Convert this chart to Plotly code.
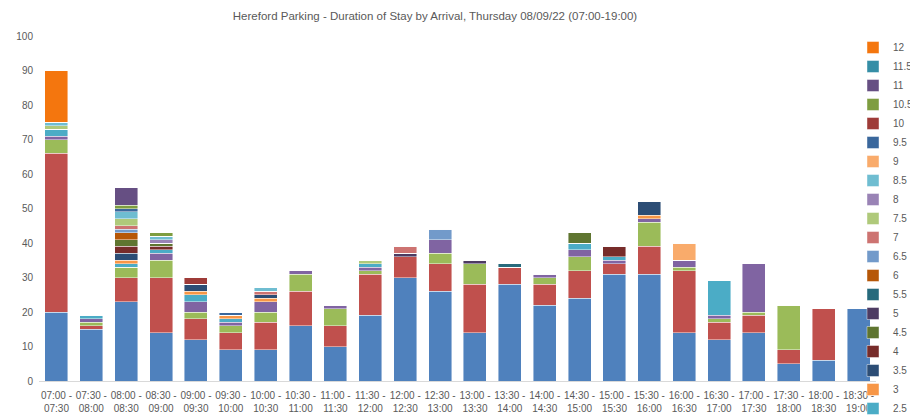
import plotly.graph_objects as go

slots = ['07:00 -<br>07:30', '07:30 -<br>08:00', '08:00 -<br>08:30', '08:30 -<br>09:00',
         '09:00 -<br>09:30', '09:30 -<br>10:00', '10:00 -<br>10:30', '10:30 -<br>11:00',
         '11:00 -<br>11:30', '11:30 -<br>12:00', '12:00 -<br>12:30', '12:30 -<br>13:00',
         '13:00 -<br>13:30', '13:30 -<br>14:00', '14:00 -<br>14:30', '14:30 -<br>15:00',
         '15:00 -<br>15:30', '15:30 -<br>16:00', '16:00 -<br>16:30', '16:30 -<br>17:00',
         '17:00 -<br>17:30', '17:30 -<br>18:00', '18:00 -<br>18:30', '18:30 -<br>19:00']

# vehicles per arrival slot, one list per length of stay (hours)
h0_5 = [20, 15, 23, 14, 12, 9, 9, 16, 10, 19, 30, 26, 14, 28, 22, 24, 31, 31, 14, 12, 14, 5, 6, 21]
h1 = [46, 1, 7, 16, 6, 5, 8, 10, 6, 12, 6, 8, 14, 5, 6, 8, 3, 8, 18, 5, 5, 4, 15, 0]
h1_5 = [4, 1, 3, 5, 2, 2, 3, 5, 5, 1, 0, 3, 6, 0, 2, 4, 0, 7, 1, 1, 1, 13, 0, 0]
h2 = [1, 1, 0, 2, 3, 1, 3, 1, 1, 1, 0, 4, 0, 0, 1, 2, 1, 1, 2, 1, 14, 0, 0, 0]
h2_5 = [2, 1, 1, 1, 2, 1, 0, 0, 0, 1, 0, 0, 0, 0, 0, 2, 1, 0, 0, 10, 0, 0, 0, 0]
h3 = [0, 0, 1, 0, 1, 1, 1, 0, 0, 0, 0, 0, 0, 0, 0, 0, 0, 1, 0, 0, 0, 0, 0, 0]
h3_5 = [0, 0, 2, 0, 2, 0, 1, 0, 0, 0, 0, 0, 0, 0, 0, 0, 0, 4, 0, 0, 0, 0, 0, 0]
h4 = [0, 0, 2, 1, 0, 0, 0, 0, 0, 0, 0, 0, 0, 0, 0, 0, 3, 0, 0, 0, 0, 0, 0, 0]
h4_5 = [0, 0, 2, 1, 0, 0, 0, 0, 0, 0, 0, 0, 0, 0, 0, 3, 0, 0, 0, 0, 0, 0, 0, 0]
h5 = [0, 0, 0, 0, 0, 0, 0, 0, 0, 0, 1, 0, 1, 0, 0, 0, 0, 0, 0, 0, 0, 0, 0, 0]
h5_5 = [0, 0, 0, 0, 0, 0, 0, 0, 0, 0, 0, 0, 0, 1, 0, 0, 0, 0, 0, 0, 0, 0, 0, 0]
h6 = [0, 0, 2, 0, 0, 0, 0, 0, 0, 0, 0, 0, 0, 0, 0, 0, 0, 0, 0, 0, 0, 0, 0, 0]
h6_5 = [0, 0, 1, 0, 0, 0, 0, 0, 0, 0, 0, 3, 0, 0, 0, 0, 0, 0, 0, 0, 0, 0, 0, 0]
h7 = [0, 0, 1, 0, 0, 0, 1, 0, 0, 0, 2, 0, 0, 0, 0, 0, 0, 0, 0, 0, 0, 0, 0, 0]
h7_5 = [1, 0, 2, 0, 0, 0, 0, 0, 0, 1, 0, 0, 0, 0, 0, 0, 0, 0, 0, 0, 0, 0, 0, 0]
h8 = [0, 0, 0, 1, 0, 0, 0, 0, 0, 0, 0, 0, 0, 0, 0, 0, 0, 0, 0, 0, 0, 0, 0, 0]
h8_5 = [1, 0, 2, 1, 0, 0, 1, 0, 0, 0, 0, 0, 0, 0, 0, 0, 0, 0, 0, 0, 0, 0, 0, 0]
h9 = [0, 0, 0, 0, 0, 0, 0, 0, 0, 0, 0, 0, 0, 0, 0, 0, 0, 0, 5, 0, 0, 0, 0, 0]
h9_5 = [0, 0, 1, 0, 0, 1, 0, 0, 0, 0, 0, 0, 0, 0, 0, 0, 0, 0, 0, 0, 0, 0, 0, 0]
h10 = [0, 0, 0, 0, 2, 0, 0, 0, 0, 0, 0, 0, 0, 0, 0, 0, 0, 0, 0, 0, 0, 0, 0, 0]
h10_5 = [0, 0, 1, 1, 0, 0, 0, 0, 0, 0, 0, 0, 0, 0, 0, 0, 0, 0, 0, 0, 0, 0, 0, 0]
h11 = [0, 0, 5, 0, 0, 0, 0, 0, 0, 0, 0, 0, 0, 0, 0, 0, 0, 0, 0, 0, 0, 0, 0, 0]
h11_5 = [0] * 24
h12 = [15, 0, 0, 0, 0, 0, 0, 0, 0, 0, 0, 0, 0, 0, 0, 0, 0, 0, 0, 0, 0, 0, 0, 0]

series = [('0.5', h0_5), ('1', h1), ('1.5', h1_5), ('2', h2), ('2.5', h2_5), ('3', h3),
          ('3.5', h3_5), ('4', h4), ('4.5', h4_5), ('5', h5), ('5.5', h5_5), ('6', h6),
          ('6.5', h6_5), ('7', h7), ('7.5', h7_5), ('8', h8), ('8.5', h8_5), ('9', h9),
          ('9.5', h9_5), ('10', h10), ('10.5', h10_5), ('11', h11), ('11.5', h11_5), ('12', h12)]

colours = ['#4F81BD', '#C0504D', '#9BBB59', '#8064A2', '#4BACC6', '#F79646',
           '#2C4D75', '#772C2A', '#5F7530', '#4D3B62', '#276A7C', '#B65708',
           '#729ACA', '#CD7371', '#AFC97A', '#9983B5', '#6FBDD1', '#F9AB6B',
           '#3A679C', '#9E3B38', '#7E9D40', '#664F83', '#358EA6', '#F4760E']

font = 'Liberation Sans, Arial'
grey = '#595959'

# the page body adds an 8px margin, so the figure is 8px smaller each way
W, H = 910, 409

fig = go.Figure()
for (name, vals), col in zip(series, colours):
    fig.add_trace(go.Bar(
        x=slots, y=vals, name=name,
        marker=dict(color=col, line=dict(color='rgba(255,255,255,0.55)', width=0.8)),
        showlegend=float(name) >= 2.5))

fig.update_layout(
    barmode='stack', bargap=0.34,
    width=W, height=H,
    margin=dict(l=31, r=42, t=28, b=36, autoexpand=False),
    paper_bgcolor='white', plot_bgcolor='white',
    font=dict(family=font, color=grey, size=10),
    title=dict(text='Hereford Parking - Duration of Stay by Arrival, Thursday 08/09/22 (07:00-19:00)',
               x=427 / W, xref='container', xanchor='center',
               y=1 - 8 / H, yref='container', yanchor='middle',
               font=dict(family=font, size=11.5, color=grey)),
    legend=dict(traceorder='reversed', x=1 + 6 / W, xref='container', xanchor='right',
                y=1 - 25 / H, yref='container', yanchor='top',
                maxheight=H, bgcolor='rgba(0,0,0,0)',
                font=dict(family=font, size=10, color=grey)),
    xaxis=dict(showline=True, linecolor='#d9d9d9', linewidth=1, ticks='',
               tickangle=0, automargin=False, ticklabelstandoff=5,
               tickfont=dict(size=10, color=grey), showgrid=False),
    yaxis=dict(range=[0, 100], dtick=10, showgrid=False, zeroline=False,
               automargin=False, ticklabelstandoff=5,
               tickfont=dict(size=10, color=grey), ticks=''),
)

fig.write_html('out.html')
